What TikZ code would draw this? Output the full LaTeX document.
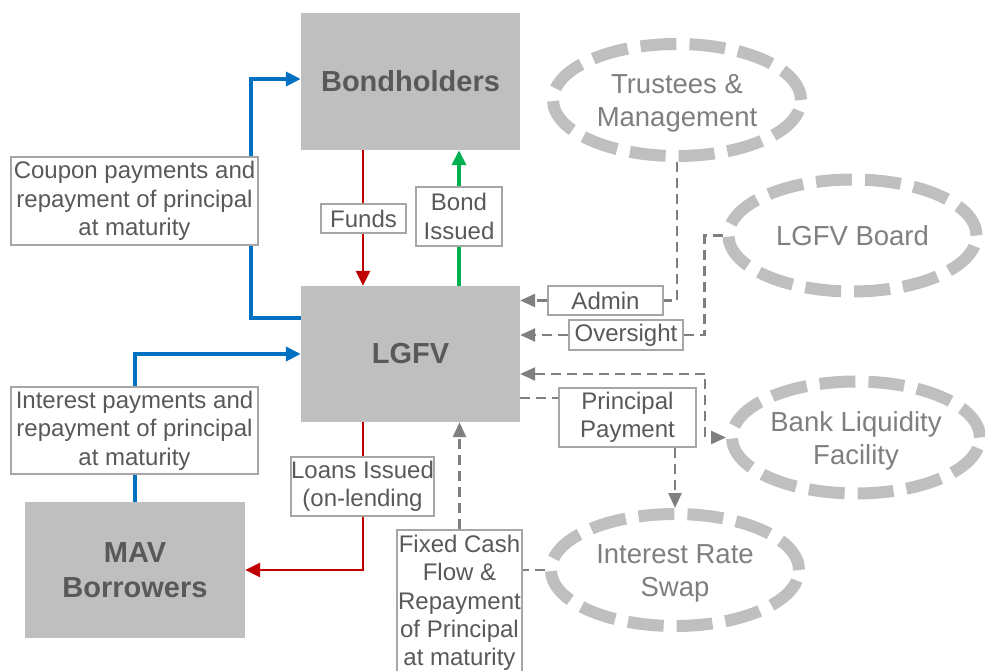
\documentclass[tikz,border=0pt]{standalone}
\usepackage{fontspec}
\setmainfont{Liberation Sans}
\usetikzlibrary{shapes.geometric,arrows.meta,backgrounds,calc}
\definecolor{boxfill}{HTML}{BFBFBF}
\definecolor{boxtext}{HTML}{595959}
\definecolor{lblborder}{HTML}{A6A6A6}
\definecolor{elltext}{HTML}{7F7F7F}
\definecolor{dashgray}{HTML}{7F7F7F}
\definecolor{myblue}{HTML}{0070C0}
\definecolor{myred}{HTML}{C00000}
\definecolor{mygreen}{HTML}{00B050}
\newcommand{\ovaltext}[1]{\raisebox{-3.5pt}[\height][\depth]{\begin{tabular}{@{}c@{}}#1\end{tabular}}}
\tikzset{
  bigbox/.style={rectangle, fill=boxfill, text=boxtext, inner sep=0pt,
    minimum width=219pt, minimum height=137pt, align=center,
    font=\fontsize{29}{35}\selectfont\bfseries},
  lbl/.style={rectangle, draw=lblborder, line width=1.5pt, fill=white, text=boxtext,
    inner sep=0pt, align=center, font=\fontsize{24}{28.3}\selectfont},
  oval/.style={ellipse, draw=boxfill, line width=12pt, dash pattern=on 36pt off 13pt,
    minimum width=248pt, minimum height=112pt, inner sep=0pt, text=elltext,
    align=center, font=\fontsize{27.5}{33}\selectfont},
  bluearr/.style={draw=myblue, line width=4pt, -{Triangle[length=15pt,width=14pt]}},
  redarr/.style={draw=myred, line width=2.7pt, -{Triangle[length=15pt,width=14pt]}},
  greenarr/.style={draw=mygreen, line width=4pt, -{Triangle[length=15pt,width=14pt]}},
  grayline/.style={draw=dashgray, line width=2.5pt, dash pattern=on 10pt off 6pt},
  grayarr/.style={grayline, -{Triangle[length=15pt,width=13pt]}},
  graybi/.style={grayline, {Triangle[length=15pt,width=13pt]}-{Triangle[length=15pt,width=13pt]}},
}
\begin{document}
\begin{tikzpicture}[x=1pt,y=-1pt]
\useasboundingbox (0,0) rectangle (985,671);
% main boxes
\node[bigbox] (bond) at (410.5,81.5) {Bondholders};
\node[bigbox, minimum height=136pt] (lgfv) at (410.5,354) {LGFV};
\node[bigbox, minimum width=220pt, minimum height=136pt] (mav) at (135,570) {MAV\\Borrowers};
% ellipses
\node[oval] (trustees) at (677,100) {\ovaltext{Trustees \&\\Management}};
\node[oval] (board) at (852.5,235.5) {LGFV Board};
\node[oval] (bank) at (856,437.5) {\ovaltext{Bank Liquidity\\Facility}};
\node[oval] (swap) at (675,570) {\ovaltext{Interest Rate\\Swap}};
% labels
\node[lbl, minimum width=247pt, minimum height=88pt] (coupon) at (134.5,201) {Coupon payments and\\repayment of principal\\at maturity};
\node[lbl, minimum width=85pt, minimum height=29pt] (funds) at (363.5,218.5) {Funds};
\node[lbl, minimum width=86pt, minimum height=59pt] (bondiss) at (459,216.5) {Bond\\Issued};
\node[lbl, minimum width=247pt, minimum height=87pt] (interest) at (134.5,430.5) {Interest payments and\\repayment of principal\\at maturity};
\node[lbl, minimum width=143pt, minimum height=59pt] (loans) at (362.5,486.5) {Loans Issued\\(on-lending};
\node[lbl, minimum width=125pt, minimum height=146pt] (fixed) at (459.5,603) {Fixed Cash\\Flow \&\\Repayment\\of Principal\\at maturity};
\node[lbl, minimum width=115pt, minimum height=29pt] (admin) at (605.5,300.5) {Admin};
\node[lbl, minimum width=114pt, minimum height=30pt] (oversight) at (626,335) {Oversight};
\node[lbl, minimum width=137pt, minimum height=59pt] (principal) at (627.5,417.5) {Principal\\Payment};
% connectors
\begin{scope}[on background layer]
\draw[bluearr] ([yshift=36pt]lgfv.west) -- ++(-50,0) |- ([yshift=2.5pt]bond.west);
\draw[bluearr] (mav.north) |- (lgfv.west);
\draw[redarr] ([xshift=-47.5pt]bond.south) -- ([xshift=-47.5pt]lgfv.north);
\draw[greenarr] ([xshift=48.5pt]lgfv.north) -- ([xshift=48.5pt]bond.south);
\draw[redarr] ([xshift=-47.5pt]lgfv.south) |- (mav.east);
\draw[grayarr] (fixed.north) -- (fixed.north |- lgfv.south);
\draw[grayline] (swap.west) -- (swap.west -| fixed.east);
\draw[grayline] (trustees.south) |- (admin.east);
\draw[grayarr] (admin.west) -- (admin.west -| lgfv.east);
\draw[grayline] (board.west) -- ++(-18,0) |- (oversight.east);
\draw[grayarr] (oversight.west) -- (oversight.west -| lgfv.east);
\draw[grayline] ([yshift=-44pt]lgfv.east) -- ([yshift=-44pt]lgfv.east -| principal.west);
\draw[grayarr] (principal.south -| swap.north) -- (swap.north);
\draw[graybi] ([yshift=-20pt]lgfv.east) -- ++(185,0) |- (bank.west);
\end{scope}
\end{tikzpicture}
\end{document}
